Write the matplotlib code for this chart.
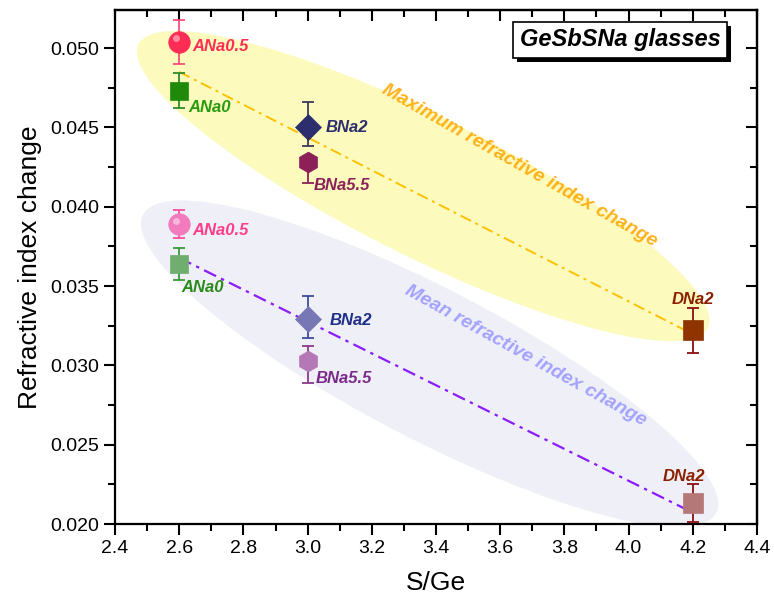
import numpy as np
import matplotlib
matplotlib.use("Agg")
import matplotlib.pyplot as plt
from matplotlib.patches import Ellipse
from matplotlib.transforms import ScaledTranslation
import matplotlib.patheffects as pe

plt.rcParams['font.family'] = ['Liberation Sans', 'DejaVu Sans']

# S/Ge ratio of each glass
samples = ['ANa0.5', 'ANa0', 'BNa2', 'BNa5.5', 'DNa2']
s_ge = [2.6, 2.6, 3.0, 3.0, 4.2]

# maximum refractive index change and error
max_dn = [0.0504, 0.0473, 0.0450, 0.0428, 0.0322]
max_err_lo = [0.0014, 0.0011, 0.0012, 0.0013, 0.0014]
max_err_hi = [0.0014, 0.0011, 0.0016, 0.0004, 0.0014]

# mean refractive index change and error
mean_dn = [0.0389, 0.0364, 0.0329, 0.0303, 0.0213]
mean_err_lo = [0.0009, 0.0010, 0.0012, 0.0014, 0.0012]
mean_err_hi = [0.0009, 0.0010, 0.0015, 0.0009, 0.0012]

markers = ['o', 's', 'D', 'h', 's']
sizes = [15.5, 13, 13, 15, 14]
max_colors = ['#ff2d55', '#1f8a0a', '#2c2e6e', '#8c2159', '#8f3300']
max_ecolors = ['#ff4d7a', '#2e8b2e', '#3a3a5a', '#8c2159', '#8b1010']
max_tcolors = ['#ff2d55', '#2a9a10', '#2c2e6e', '#8c2159', '#8b2000']
mean_colors = ['#f27bbd', '#6fae6f', '#7777b5', '#b478b6', '#b57878']
mean_ecolors = ['#ff4fa0', '#3a9a3a', '#3e4d9a', '#8b3a8b', '#8b1010']
mean_tcolors = ['#ff3d8b', '#2a8a1a', '#1f2f8a', '#7a2a8a', '#8b2000']

# label offsets (pixels) from each marker
max_off = [(13, -5), (9, -17), (18, 0), (6, -23), (0, 31)]
mean_off = [(13, -6), (2, -24), (22, -1), (8, -18), (-9, 27)]

fig = plt.figure(figsize=(7.74, 6.07), dpi=100)
ax = fig.add_axes([0.1486, 0.1367, 0.8294, 0.8468])
ax.set_xlim(2.4, 4.4)
ax.set_ylim(0.020, 0.0524)

# shaded ellipses around each group, sized in pixels
def glow(cx, cy, w, h, ang, color):
    tr = fig.dpi_scale_trans + ScaledTranslation(cx, cy, ax.transData)
    ax.add_patch(Ellipse((0, 0), w / 100, h / 100, angle=ang,
                         transform=tr, facecolor=color, edgecolor='none',
                         zorder=0))

glow(3.36, 0.0413, 636, 140, -26.5, '#fcfbbd')
glow(3.38, 0.0301, 646, 150, -27.5, '#efeff7')

# linear fits
xs = np.array([2.6, 4.2])
p_max = np.polyfit(s_ge, max_dn, 1)
p_mean = np.polyfit(s_ge, mean_dn, 1)
ax.plot(xs, np.polyval(p_max, xs), color='#ffc000', lw=1.4,
        ls=(0, (6, 2.5, 1.5, 2.5)), zorder=3)
ax.plot(xs, np.polyval(p_mean, xs), color='#8a1cff', lw=1.6,
        ls=(0, (6, 2.5, 1.5, 2.5)), zorder=3)

hl = ax.transData + ScaledTranslation(-2.5 / 72, 2.5 / 72, fig.dpi_scale_trans)

for i, name in enumerate(samples):
    for vals, lo, hi, col, ecol, tcol, off in (
            (max_dn, max_err_lo, max_err_hi, max_colors, max_ecolors, max_tcolors, max_off),
            (mean_dn, mean_err_lo, mean_err_hi, mean_colors, mean_ecolors, mean_tcolors, mean_off)):
        ax.errorbar(s_ge[i], vals[i], yerr=[[lo[i]], [hi[i]]], fmt='none',
                    ecolor=ecol[i], elinewidth=1.3, capsize=4.5, capthick=1.3,
                    zorder=4)
        ax.plot(s_ge[i], vals[i], marker=markers[i], ms=sizes[i],
                color=col[i], mec=col[i], mew=0.5, ls='none', zorder=5)
        if markers[i] == 'o':
            ax.plot(s_ge[i], vals[i], marker='o', ms=5, color='white',
                    alpha=0.45, mew=0, ls='none', transform=hl, zorder=6)
        ha = 'center' if name == 'DNa2' else 'left'
        ax.annotate(name, (s_ge[i], vals[i]), xytext=off[i],
                    textcoords='offset pixels', ha=ha, va='center',
                    fontsize=12, fontweight='bold', fontstyle='italic',
                    color=tcol[i], zorder=7)

ax.text(3.66, 0.0426, 'Maximum refractive index change', rotation=-29.5,
        rotation_mode='anchor', ha='center', va='center', fontsize=14,
        fontweight='bold', fontstyle='italic', color='#ffb21a', zorder=2)
ax.text(3.68, 0.0306, 'Mean refractive index change', rotation=-29,
        rotation_mode='anchor', ha='center', va='center', fontsize=14,
        fontweight='bold', fontstyle='italic', color='#a3a3ff', zorder=2)

title = ax.text(0.787, 0.942, 'GeSbSNa glasses', transform=ax.transAxes,
                ha='center', va='center', fontsize=17, fontweight='bold',
                fontstyle='italic', color='black', zorder=8,
                bbox=dict(boxstyle='square,pad=0.28', fc='white', ec='black',
                          lw=1.2))
title.get_bbox_patch().set_path_effects([
    pe.SimplePatchShadow(offset=(3, -3), shadow_rgbFace='black', alpha=1),
    pe.Normal()])

ax.set_xticks(np.arange(2.4, 4.41, 0.2))
ax.set_xticks(np.arange(2.5, 4.4, 0.2), minor=True)
ax.set_yticks(np.arange(0.020, 0.0501, 0.005))
ax.set_yticks(np.arange(0.0225, 0.0524, 0.005), minor=True)
ax.xaxis.set_major_formatter(matplotlib.ticker.FormatStrFormatter('%.1f'))
ax.yaxis.set_major_formatter(matplotlib.ticker.FormatStrFormatter('%.3f'))

for side in ax.spines.values():
    side.set_linewidth(1.6)
ax.tick_params(which='both', bottom=True, left=True, top=False, right=False,
               direction='out', width=1.5, labelsize=14)
ax.tick_params(which='major', length=8)
ax.tick_params(which='minor', length=5)

# mirror ticks on top and right, pointing the same way as the main axes
axt = ax.secondary_xaxis('top')
axt.set_xticks(np.arange(2.4, 4.41, 0.2))
axt.set_xticks(np.arange(2.5, 4.4, 0.2), minor=True)
axt.tick_params(which='both', direction='in', width=1.5, labeltop=False)
axt.tick_params(which='major', length=8)
axt.tick_params(which='minor', length=5)
axr = ax.secondary_yaxis('right')
axr.set_yticks(np.arange(0.020, 0.0501, 0.005))
axr.set_yticks(np.arange(0.0225, 0.0524, 0.005), minor=True)
axr.tick_params(which='both', direction='in', width=1.5, labelright=False)
axr.tick_params(which='major', length=8)
axr.tick_params(which='minor', length=5)
for a in (axt, axr):
    for side in a.spines.values():
        side.set_linewidth(1.6)

ax.set_xlabel('S/Ge', fontsize=19, labelpad=10)
ax.set_ylabel('Refractive index change', fontsize=19, labelpad=6)

fig.savefig('out.png', dpi=100)
